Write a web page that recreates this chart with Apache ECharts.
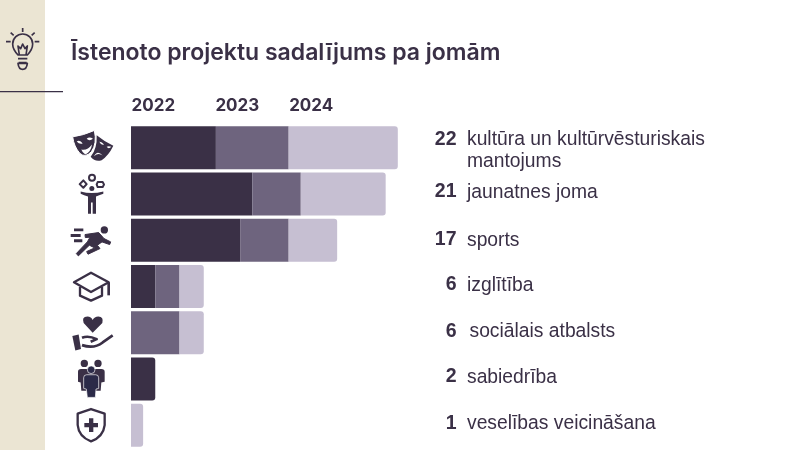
<!DOCTYPE html>
<html>
<head>
<meta charset="utf-8">
<style>
    html, body { margin: 0; padding: 0; background: #fff; }
    #chart { width: 800px; height: 450px; }
</style>
<script src="https://cdn.jsdelivr.net/npm/echarts@6/dist/echarts.min.js"></script>
</head>
<body>
<div id="chart"></div>
<script>
    // dati
    const years = ["2022", "2023", "2024"];
    const categories = [
        "kultūra un kultūrvēsturiskais\nmantojums",
        "jaunatnes joma",
        "sports",
        "izglītība",
        "sociālais atbalsts",
        "sabiedrība",
        "veselības veicināšana"
    ];
    const values2022 = [7, 10, 9, 2, 0, 2, 0];
    const values2023 = [6, 4, 4, 2, 4, 0, 0];
    const values2024 = [9, 7, 4, 2, 2, 0, 1];
    const totals = [22, 21, 17, 6, 6, 2, 1];

    const yearSeries = [values2022, values2023, values2024];
    const colors = ["#3a3046", "#6e647e", "#c6bfd2"];
    const dark = "#3a3046";

    // nelielas teksta nobīdes pa rindām (px)
    const valueDy = [-8, -2, -0.5, -1.5, -1.5, -2, -2];
    const labelDy = [3, -1.5, 0, -1, -1, -1.5, -1.5];
    const labelDx = [0, 0, 0, 0, 2.5, 0, 0];

    // ikonas: zīmētas 3x mērogā, [izcelsme x, y] un daļas
    const icons = [
        { o: [273, 442.5], parts: [
            { d: "M290 405Q315 425 340 437Q325 468 305 480Q285 486 272 470Q292 445 290 405Z", fill: dark },
            { d: "M298 425Q305 424 312 433Q303 436 298 425ZM320 440Q326 436 334 440Q326 448 320 440ZM282 468Q292 448 308 466Q295 456 282 468Z", fill: "#fff" },
            { d: "M218 410Q250 406 283 391Q292 430 274 455Q256 474 240 460Q222 440 218 410Z", fill: dark, stroke: "#fff", w: 3 },
            { d: "M230 424Q240 418 248 430Q238 433 230 424ZM260 416Q268 408 279 416Q268 424 260 416ZM244 448Q262 452 276 433Q273 455 256 463Q247 458 244 448Z", fill: "#fff" }
        ] },
        { o: [273, 580.5], parts: [
            { d: "M285 532A9 9 0 1 1 267 532A9 9 0 1 1 285 532Z", stroke: dark, w: 6 },
            { d: "M250 540L260 551L250 562L239 551Z", stroke: dark, w: 6 },
            { d: "M293 545L308 545L312 552L308 560L293 560L290 552Z", stroke: dark, w: 6 },
            { d: "M283 564A7.500 7.500 0 1 1 268 564A7.500 7.500 0 1 1 283 564Z", fill: dark },
            { d: "M242 573Q275 582 310 573L310 580Q296 585 288 588L288 640L278 640L278 606L273 606L273 640L264 640L264 588Q252 585 242 580Z", fill: dark }
        ] },
        { o: [273, 45], parts: [
            { d: "M324 14A11 11 0 1 1 302 14A11 11 0 1 1 324 14Z", fill: dark },
            { d: "M222 10L250 10L250 18L222 18ZM212 26L242 26L242 35L212 35ZM222 42L247 42L247 51L222 51Z", fill: dark },
            { d: "M255 28L296 22L312 40L332 50L329 58L306 50L292 60L300 70L264 87L260 79L284 68L268 60L235 92L229 85L262 50L270 36L256 37Z", fill: dark, stroke: dark, w: 3 }
        ] },
        { o: [273, 184.5], parts: [
            { d: "M222 172L273 143L326 172L273 201Z", stroke: dark, w: 7 },
            { d: "M240 186L240 212L273 227L306 212L306 186", stroke: dark, w: 7 },
            { d: "M326 172L326 211", stroke: dark, w: 8 }
        ] },
        { o: [273, 323], parts: [
            { d: "M278 323L251 294Q244 275 262 274Q274 274 278 285Q283 274 295 274Q312 275 307 294Z", fill: dark },
            { d: "M217 333L236 328L243 372L226 376Z", fill: dark },
            { d: "M246 338Q265 330 290 342L272 350", stroke: dark, w: 8 },
            { d: "M246 360Q282 372 308 352L338 331", stroke: dark, w: 8 }
        ] },
        { o: [273, 462], parts: [
            { d: "M264 415A11 11 0 1 1 242 415A11 11 0 1 1 264 415ZM305 415A11 11 0 1 1 283 415A11 11 0 1 1 305 415Z", fill: dark },
            { d: "M234 440Q234 432 243 432L304 432Q314 432 314 440L314 470L304 472L302 497L244 497L242 472L234 470Z", fill: dark },
            { d: "M285 434A11 11 0 1 1 262 434A11 11 0 1 1 285 434Z", fill: "#2b2a48", stroke: "#fff", w: 2 },
            { d: "M251 458Q251 449 260 449L287 449Q296 449 296 458L296 490L288 492L286 517L262 517L259 492L251 490Z", fill: "#2b2a48", stroke: "#fff", w: 2 }
        ] },
        { o: [273, 601], parts: [
            { d: "M273 552L314 566L314 600Q310 635 273 649Q236 635 233 600L233 566Z", stroke: dark, w: 7 },
            { d: "M267 580L280 580L280 594L294 594L294 607L280 607L280 621L267 621L267 607L253 607L253 594L267 594Z", fill: dark }
        ] }
    ];

    const bulbParts = [
        { d: "M54 165Q38 148 38 132A30 30 0 1 1 98 132Q98 148 82 165ZM54 176L82 176M56 188L80 188M68 84L68 96M32 98L41 106M104 98L95 106M18 125L32 125M104 125L118 125M58 165L54 138L62 146L68 132L75 146L82 138L78 165", stroke: dark, w: 5 },
        { d: "M54 190L82 190Q80 208 68 208Q56 208 54 190Z", stroke: dark, w: 5 }
    ];

    const chart = echarts.init(document.getElementById("chart"));

    function partToGraphic(p) {
        return {
            type: "path",
            shape: { pathData: p.d },
            style: {
                fill: p.fill || "none",
                stroke: p.stroke || "none",
                lineWidth: p.w || 0,
                lineJoin: "round"
            }
        };
    }

    // pēdējam segmentam rindā noapaļots gals
    function barData(values, s) {
        return values.map((v, i) => {
            let last = true;
            for (let k = s + 1; k < yearSeries.length; k++) {
                if (yearSeries[k][i] > 0) last = false;
            }
            return { value: v, itemStyle: { borderRadius: last ? [0, 3, 3, 0] : 0 } };
        });
    }

    const barSeries = years.map((year, s) => ({
        name: year,
        type: "bar",
        stack: "total",
        barWidth: 43,
        silent: true,
        itemStyle: { color: colors[s] },
        data: barData(yearSeries[s], s)
    }));

    // ikona, skaits un nosaukums katrai rindai
    function renderRow(params, api) {
        const i = params.dataIndex;
        const pos = api.coord([0, i]);
        const icon = icons[i];
        return {
            type: "group",
            children: [
                {
                    type: "group",
                    x: 91 - icon.o[0] / 3,
                    y: pos[1] - icon.o[1] / 3,
                    scaleX: 1 / 3,
                    scaleY: 1 / 3,
                    children: icon.parts.map(partToGraphic)
                },
                {
                    type: "text",
                    x: 456.5,
                    y: pos[1] + valueDy[i],
                    style: {
                        text: String(totals[i]),
                        textAlign: "right",
                        textVerticalAlign: "middle",
                        font: "bold 19.5px 'Liberation Sans'",
                        fill: dark
                    }
                },
                {
                    type: "text",
                    x: 467 + labelDx[i],
                    y: pos[1] + labelDy[i],
                    style: {
                        text: categories[i],
                        textAlign: "left",
                        textVerticalAlign: "middle",
                        font: "19.3px 'Liberation Sans'",
                        lineHeight: 21.5,
                        fill: dark
                    }
                }
            ]
        };
    }

    // gadu virsraksti virs pirmās rindas segmentu sākumiem
    function renderYear(params, api) {
        const s = params.dataIndex;
        let start = 0;
        for (let k = 0; k < s; k++) start += yearSeries[k][0];
        const pos = api.coord([start, 0]);
        return {
            type: "text",
            x: pos[0] + (s === 1 ? -0.5 : 0.5),
            y: 106,
            style: {
                text: years[s],
                textAlign: "left",
                textVerticalAlign: "middle",
                font: "700 17px Inter",
                fill: dark
            }
        };
    }

    function renderBulb() {
        return {
            type: "group",
            scaleX: 1 / 3,
            scaleY: 1 / 3,
            children: bulbParts.map(partToGraphic)
        };
    }

    const option = {
        backgroundColor: "#fff",
        animation: false,
        title: {
            text: "Īstenoto projektu sadalījums pa jomām",
            left: 66,
            top: 37,
            textStyle: { fontFamily: "Inter", fontWeight: 600, fontSize: 23, color: dark }
        },
        graphic: [
            { type: "rect", z: -10, shape: { x: 0, y: 0, width: 45, height: 450 }, style: { fill: "#ebe5d3" } },
            { type: "rect", z: 1, shape: { x: 0, y: 91, width: 63, height: 1.2 }, style: { fill: dark } }
        ],
        grid: { left: 131, top: 124.5, width: 667, height: 324 },
        xAxis: { type: "value", min: 0, max: 55, show: false },
        yAxis: { type: "category", inverse: true, data: categories, show: false },
        series: [
            ...barSeries,
            {
                type: "custom",
                silent: true,
                renderItem: renderRow,
                data: categories.map((c, i) => [0, i]),
                encode: { x: 0, y: 1 },
                z: 5
            },
            {
                type: "custom",
                silent: true,
                renderItem: renderYear,
                data: years.map((y, s) => [0, s]),
                encode: { x: 0, y: 1 },
                z: 5
            },
            {
                type: "custom",
                silent: true,
                renderItem: renderBulb,
                data: [[0, 0]],
                encode: { x: 0, y: 1 },
                z: 5
            }
        ]
    };

    chart.setOption(option);
</script>
</body>
</html>
